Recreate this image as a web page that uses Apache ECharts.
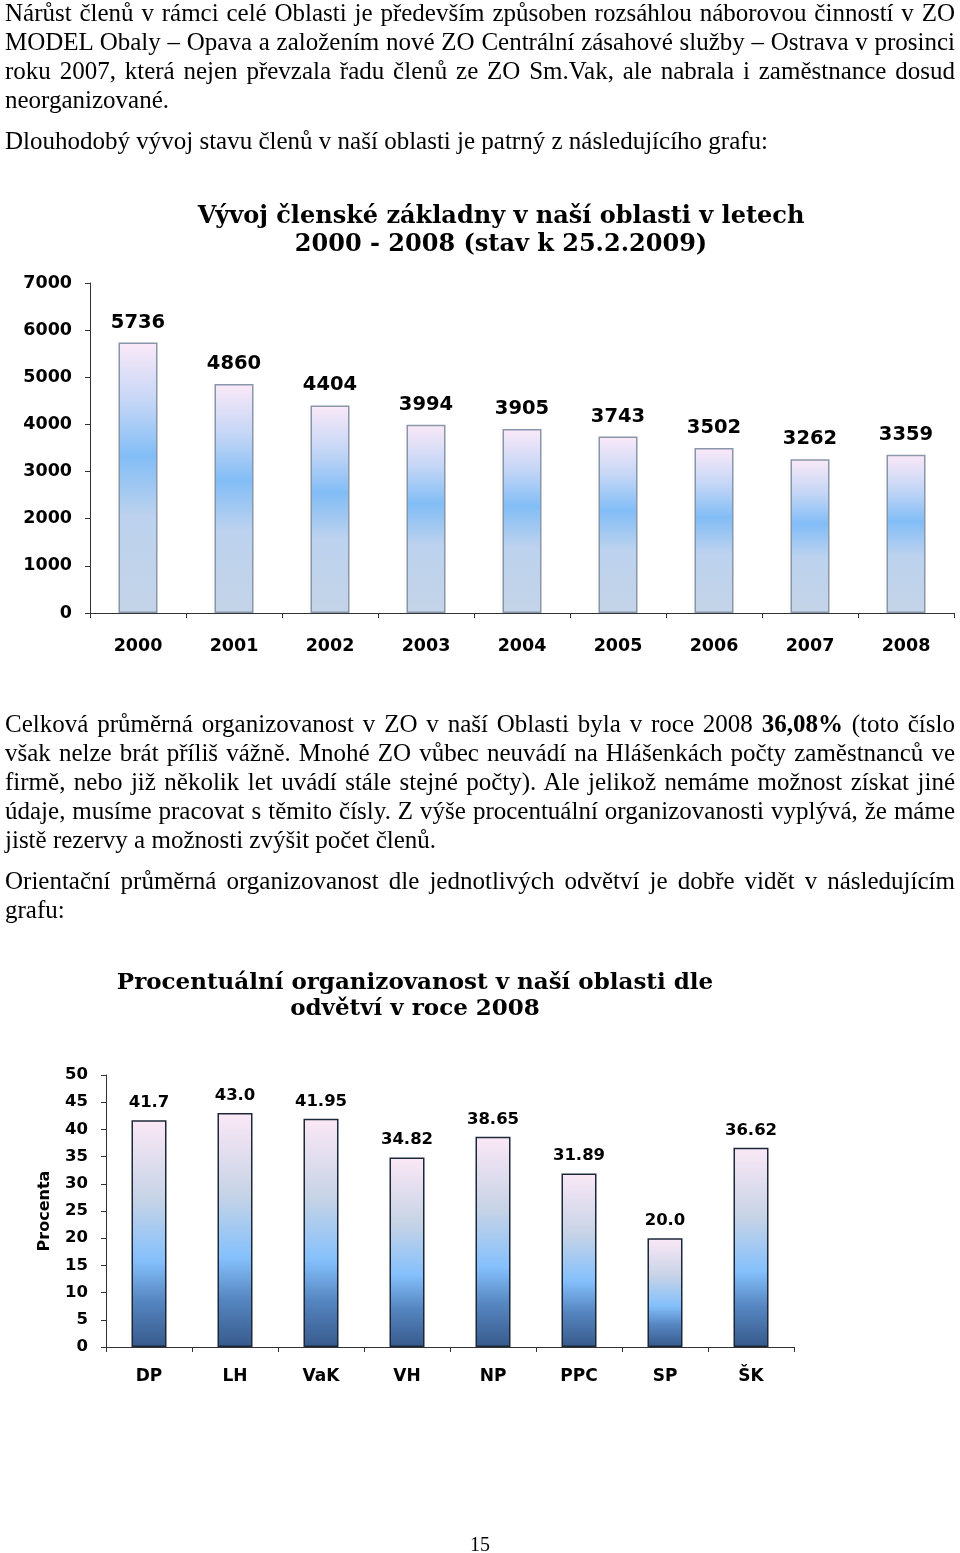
<!DOCTYPE html>
<html>
<head>
<meta charset="utf-8">
<script src="https://cdn.jsdelivr.net/npm/echarts@6/dist/echarts.min.js"></script>
<style>
  html, body { margin: 0; padding: 0; background: #fff; }
  body { width: 960px; height: 1553px; position: relative; overflow: hidden; }
  #chart { position: absolute; left: 0; top: 0; width: 960px; height: 1553px; }
  .para { position: absolute; left: 5px; width: 950px; font-family: "Liberation Serif", "Times New Roman", serif; font-size: 25px; line-height: 29px; color: #000; }
  .para div { white-space: nowrap; height: 29px; }
  .j { text-align: justify; text-align-last: justify; white-space: normal !important; }
  .pn { position: absolute; left: 0; width: 960px; text-align: center; font-family: "Liberation Serif", serif; font-size: 20px; top: 1533px; }
</style>
</head>
<body>
<div id="chart"></div>
<div class="para" style="top:-2px">
  <div class="j">Nárůst členů v rámci celé Oblasti je především způsoben rozsáhlou náborovou činností v ZO</div>
  <div class="j">MODEL Obaly – Opava a založením nové ZO Centrální zásahové služby – Ostrava v prosinci</div>
  <div class="j">roku 2007, která nejen převzala řadu členů ze ZO Sm.Vak, ale nabrala i zaměstnance dosud</div>
  <div>neorganizované.</div>
</div>
<div class="para" style="top:126px">
  <div>Dlouhodobý vývoj stavu členů v naší oblasti je patrný z následujícího grafu:</div>
</div>
<div class="para" style="top:709px">
  <div class="j">Celková průměrná organizovanost v ZO v naší Oblasti byla v roce 2008 <b>36,08%</b> (toto číslo</div>
  <div class="j">však nelze brát příliš vážně. Mnohé ZO vůbec neuvádí na Hlášenkách počty zaměstnanců ve</div>
  <div class="j">firmě, nebo již několik let uvádí stále stejné počty). Ale jelikož nemáme možnost získat jiné</div>
  <div class="j">údaje, musíme pracovat s těmito čísly. Z výše procentuální organizovanosti vyplývá, že máme</div>
  <div>jistě rezervy a možnosti zvýšit počet členů.</div>
</div>
<div class="para" style="top:866px">
  <div class="j">Orientační průměrná organizovanost dle jednotlivých odvětví je dobře vidět v následujícím</div>
  <div>grafu:</div>
</div>
<div class="pn">15</div>
<script>
// ---- Chart 1 data ----
const years = ['2000','2001','2002','2003','2004','2005','2006','2007','2008'];
const members = [5736, 4860, 4404, 3994, 3905, 3743, 3502, 3262, 3359];
const title1Lines = ['Vývoj členské základny v naší oblasti v letech', '2000 - 2008 (stav k 25.2.2009)'];

// ---- Chart 2 data ----
const sectors = ['DP','LH','VaK','VH','NP','PPC','SP','ŠK'];
const percent = [41.7, 43.0, 41.95, 34.82, 38.65, 31.89, 20.0, 36.62];
const title2Lines = ['Procentuální organizovanost v naší oblasti dle', 'odvětví v roce 2008'];
const yName2 = 'Procenta';

const SANS = '"DejaVu Sans", "Liberation Sans", Arial, sans-serif';
const SLAB = '"DejaVu Serif", serif';

const grad1 = new echarts.graphic.LinearGradient(0, 0, 0, 1, [
  {offset: 0, color: '#fbe9f8'},
  {offset: 0.22, color: '#c4d6f6'},
  {offset: 0.42, color: '#82bdf6'},
  {offset: 0.64, color: '#bcd2ee'},
  {offset: 1, color: '#c4d4e8'}
]);
const grad2 = new echarts.graphic.LinearGradient(0, 0, 0, 1, [
  {offset: 0, color: '#fbe8f6'},
  {offset: 0.35, color: '#c6d3e6'},
  {offset: 0.62, color: '#84c0fc'},
  {offset: 0.8, color: '#5585c0'},
  {offset: 1, color: '#385a8c'}
]);

function fmt2(v) { return Number.isInteger(v) ? v.toFixed(1) : String(v); }
function plain(v) { return String(v); }

const chart = echarts.init(document.getElementById('chart'), null, {renderer: 'canvas'});
chart.setOption({
  animation: false,
  graphic: [
    {type: 'text', style: {text: title1Lines[0], x: 501, y: 217, align: 'center', verticalAlign: 'middle', font: 'bold 24px ' + SLAB, fill: '#000'}},
    {type: 'text', style: {text: title1Lines[1], x: 501, y: 245, align: 'center', verticalAlign: 'middle', font: 'bold 24px ' + SLAB, fill: '#000'}},
    {type: 'text', style: {text: title2Lines[0], x: 415, y: 983, align: 'center', verticalAlign: 'middle', font: 'bold 23px ' + SLAB, fill: '#000'}},
    {type: 'text', style: {text: title2Lines[1], x: 415, y: 1009, align: 'center', verticalAlign: 'middle', font: 'bold 23px ' + SLAB, fill: '#000'}}
  ],
  grid: [
    {left: 90, top: 283, width: 864, height: 330, containLabel: false},
    {left: 106, top: 1075, width: 688, height: 272, containLabel: false}
  ],
  xAxis: [
    {gridIndex: 0, type: 'category', data: years,
     axisLine: {lineStyle: {color: '#333', width: 1}},
     axisTick: {show: true, length: 5, lineStyle: {color: '#333'}},
     axisLabel: {margin: 24, fontFamily: SANS, fontWeight: 'bold', fontSize: 17.5, color: '#000'}},
    {gridIndex: 1, type: 'category', data: sectors,
     axisLine: {lineStyle: {color: '#333', width: 1}},
     axisTick: {show: true, length: 5, lineStyle: {color: '#333'}},
     axisLabel: {margin: 21, fontFamily: SANS, fontWeight: 'bold', fontSize: 17, color: '#000'}}
  ],
  yAxis: [
    {gridIndex: 0, type: 'value', min: 0, max: 7000, interval: 1000,
     axisLine: {show: true, lineStyle: {color: '#333', width: 1}},
     axisTick: {show: true, length: 5, lineStyle: {color: '#333'}},
     splitLine: {show: false},
     axisLabel: {margin: 18, formatter: plain, fontFamily: SANS, fontWeight: 'bold', fontSize: 17.5, color: '#000'}},
    {gridIndex: 1, type: 'value', min: 0, max: 50, interval: 5,
     name: yName2, nameLocation: 'middle', nameRotate: 90, nameGap: 53,
     nameTextStyle: {fontFamily: SANS, fontWeight: 'bold', fontSize: 16, color: '#000'},
     axisLine: {show: true, lineStyle: {color: '#333', width: 1}},
     axisTick: {show: true, length: 5, lineStyle: {color: '#333'}},
     splitLine: {show: false},
     axisLabel: {margin: 18, formatter: plain, fontFamily: SANS, fontWeight: 'bold', fontSize: 16.5, color: '#000'}}
  ],
  series: [
    {type: 'bar', xAxisIndex: 0, yAxisIndex: 0, data: members, barWidth: 39,
     itemStyle: {color: grad1, borderColor: '#8a96aa', borderWidth: 1.5},
     label: {show: true, position: 'top', distance: 10, fontFamily: SANS, fontWeight: 'bold', fontSize: 19.5, color: '#000'}},
    {type: 'bar', xAxisIndex: 1, yAxisIndex: 1, data: percent, barWidth: 35,
     itemStyle: {color: grad2, borderColor: '#1c2838', borderWidth: 1.5},
     label: {show: true, position: 'top', distance: 9, fontFamily: SANS, fontWeight: 'bold', fontSize: 16.5, color: '#000',
             formatter: p => fmt2(p.value)}}
  ]
});
</script>
</body>
</html>
